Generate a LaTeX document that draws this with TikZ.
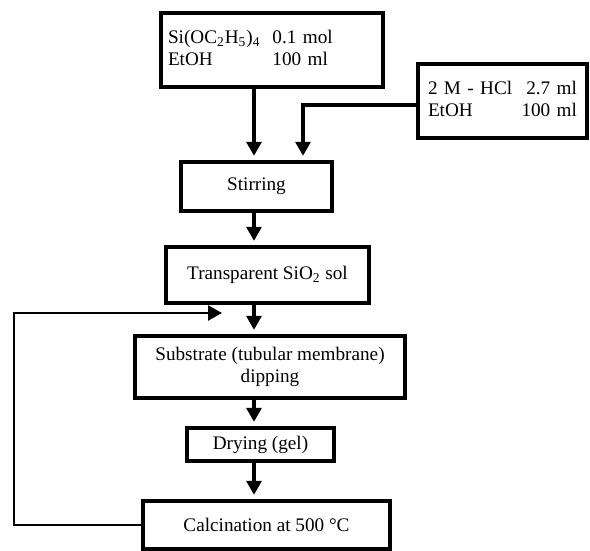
\documentclass[tikz,border=0pt]{standalone}
\usepackage{fontspec}
\setmainfont{Liberation Serif}
\usepackage{tikz}
\usetikzlibrary{arrows.meta, positioning}

\begin{document}
\begin{tikzpicture}[x=0.5pt, y=-0.5pt,
  box/.style={draw, line width=2.2pt, inner sep=0pt, font=\fontsize{9.6}{11}\selectfont},
  flow/.style={line width=1.6pt, shorten >=2pt, -{Triangle[width=7.5pt, length=7pt]}}]
  \useasboundingbox (0,0) rectangle (590,551);

  % Starting solutions
  \node[box, text width=104pt, inner xsep=3.5pt, align=left, minimum height=37pt] (teos) at (272,50) {
    \begin{tabular}{@{}l@{\hspace{6pt}}l@{}}
      Si(OC\textsubscript{2}H\textsubscript{5})\textsubscript{4} & 0.1 mol\\
      EtOH & 100 ml
    \end{tabular}
  };
  \node[box, text width=74.5pt, inner xsep=5pt, align=left, minimum height=37pt] (hcl) at (502.5,101) {
    \begin{tabular*}{74.5pt}{@{}l@{\extracolsep{\fill}}r@{}}
      2 M - HCl & 2.7 ml\\
      EtOH & 100 ml
    \end{tabular*}
  };

  % Process steps
  \node[box, minimum width=75.5pt, minimum height=24.5pt] (stir) at (256.5,186.5) {Stirring};
  \node[box, minimum width=101.5pt, minimum height=28pt] (sol) at (267.5,275) {Transparent SiO\textsubscript{2} sol};
  \node[box, minimum width=135pt, minimum height=31pt, align=center] (dip) at (270,367) {Substrate (tubular membrane)\\dipping};
  \node[box, minimum width=73.5pt, minimum height=16.5pt] (dry) at (260.5,444.5) {Drying (gel)};
  \node[box, minimum width=123.5pt, minimum height=24pt] (calc) at (266.5,525) {Calcination at 500 °C};

  % Main axis and side inlet
  \coordinate (axis) at (254,0);
  \coordinate (join) at (303,0);
  \draw[flow] (teos.south -| axis) -- (stir.north -| axis);
  \draw[flow] ([yshift=-2pt]hcl.west) -| (stir.north -| join);
  \draw[flow] (stir.south -| axis) -- (sol.north -| axis);
  \draw[flow] (sol.south -| axis) -- (dip.north -| axis);
  \draw[flow] (dip.south -| axis) -- (dry.north -| axis);
  \draw[flow] (dry.south -| axis) -- (calc.north -| axis);

  % Repeat loop
  \coordinate (back) at (14,313);
  \coordinate (backtip) at (222,313);
  \draw[flow, line width=1.3pt, shorten >=0pt] (calc.west) -| (back) -- (backtip);
\end{tikzpicture}
\end{document}
